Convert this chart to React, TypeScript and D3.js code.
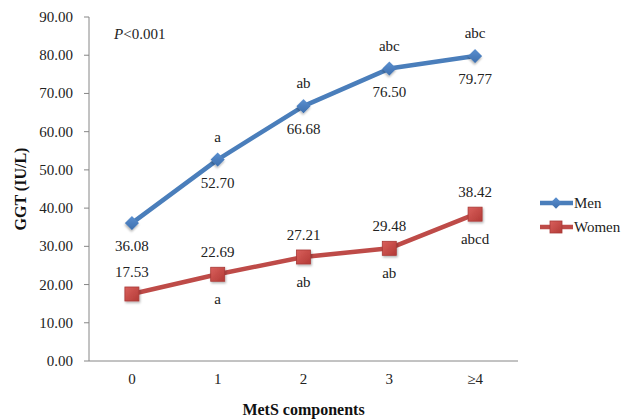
import React, { useEffect } from "react";
import * as d3 from "d3";

const categories = ["0", "1", "2", "3", "≥4"];
const menValues = [36.08, 52.7, 66.68, 76.5, 79.77];
const womenValues = [17.53, 22.69, 27.21, 29.48, 38.42];
const menLetters = ["", "a", "ab", "abc", "abc"];
const womenLetters = ["", "a", "ab", "ab", "abcd"];
const yTicks = [0, 10, 20, 30, 40, 50, 60, 70, 80, 90];

const W = 632;
const H = 419;
const plot = { left: 89, right: 518, top: 17, bottom: 361 };
const FONT = "Liberation Serif";
const BLUE = "#4A7EBB";
const RED = "#BE4B48";

export default function App() {
  useEffect(() => {
    document.body.style.margin = "0";
  }, []);

  const x = d3
    .scaleBand<string>()
    .domain(categories)
    .range([plot.left, plot.right]);
  const cx = (c: string) => (x(c) ?? 0) + x.bandwidth() / 2;
  const y = d3.scaleLinear().domain([0, 90]).range([plot.bottom, plot.top]);

  const line = d3
    .line<number>()
    .x((_, i) => cx(categories[i]))
    .y((d) => y(d));

  const txt: React.CSSProperties = { fontFamily: FONT, fontSize: 15 };
  const title: React.CSSProperties = { fontFamily: FONT, fontSize: 16, fontWeight: "bold" };

  return (
    <svg width={W} height={H} style={{ display: "block", fontFamily: FONT }}>
      <defs>
        <linearGradient id="sq" x1="0" y1="0" x2="1" y2="1">
          <stop offset="0" stopColor="#D9605C" />
          <stop offset="1" stopColor="#B33A36" />
        </linearGradient>
        <linearGradient id="dm" x1="0" y1="0" x2="1" y2="1">
          <stop offset="0" stopColor="#5A8FD0" />
          <stop offset="1" stopColor="#3E6FAD" />
        </linearGradient>
        <filter id="sh" x="-50%" y="-50%" width="200%" height="200%">
          <feDropShadow dx="1" dy="1.5" stdDeviation="1" floodColor="#000" floodOpacity="0.3" />
        </filter>
      </defs>

      {/* value axis */}
      <line x1={plot.left} x2={plot.left} y1={plot.top} y2={plot.bottom} stroke="#868686" />
      {yTicks.map((t) => (
        <g key={t}>
          <line x1={plot.left - 5} x2={plot.left} y1={y(t)} y2={y(t)} stroke="#868686" />
          <text x={plot.left - 16} y={y(t) + 5} textAnchor="end" style={txt} fill="#222">
            {t.toFixed(2)}
          </text>
        </g>
      ))}

      {/* category axis */}
      <line x1={plot.left} x2={plot.right} y1={plot.bottom} y2={plot.bottom} stroke="#868686" />
      {categories.map((c) => (
        <text key={c} x={cx(c)} y={384} textAnchor="middle" style={txt} fill="#222">
          {c}
        </text>
      ))}

      <text
        transform={`translate(26,${(plot.top + plot.bottom) / 2}) rotate(-90)`}
        textAnchor="middle"
        style={title}
        fill="#111"
      >
        GGT (IU/L)
      </text>
      <text x={(plot.left + plot.right) / 2} y={415} textAnchor="middle" style={title} fill="#111">
        MetS components
      </text>

      <text x={114} y={39} style={txt} fill="#222">
        <tspan fontStyle="italic">P</tspan>&lt;0.001
      </text>

      {/* series lines */}
      <path d={line(menValues) ?? ""} fill="none" stroke={BLUE} strokeWidth={4.5} strokeLinejoin="round" />
      <path d={line(womenValues) ?? ""} fill="none" stroke={RED} strokeWidth={4.5} strokeLinejoin="round" />

      {/* markers */}
      {menValues.map((v, i) => (
        <rect
          key={"m" + i}
          x={-5}
          y={-5}
          width={10}
          height={10}
          transform={`translate(${cx(categories[i])},${y(v)}) rotate(45)`}
          fill="url(#dm)"
          filter="url(#sh)"
        />
      ))}
      {womenValues.map((v, i) => (
        <rect
          key={"w" + i}
          x={cx(categories[i]) - 7}
          y={y(v) - 7}
          width={14}
          height={14}
          fill="url(#sq)"
          stroke="#A93A37"
          strokeWidth={0.8}
          filter="url(#sh)"
        />
      ))}

      {/* data labels */}
      {menValues.map((v, i) => (
        <g key={"ml" + i} fill="#222" textAnchor="middle">
          <text x={cx(categories[i])} y={y(v) + 28} style={txt}>{v.toFixed(2)}</text>
          {menLetters[i] && (
            <text x={cx(categories[i])} y={y(v) - 18} style={txt}>{menLetters[i]}</text>
          )}
        </g>
      ))}
      {womenValues.map((v, i) => (
        <g key={"wl" + i} fill="#222" textAnchor="middle">
          <text x={cx(categories[i])} y={y(v) - 17} style={txt}>{v.toFixed(2)}</text>
          {womenLetters[i] && (
            <text x={cx(categories[i])} y={y(v) + 30} style={txt}>{womenLetters[i]}</text>
          )}
        </g>
      ))}

      {/* legend */}
      <g>
        <line x1={540} x2={573} y1={203} y2={203} stroke={BLUE} strokeWidth={4.5} />
        <rect x={-4} y={-4} width={8} height={8} transform="translate(556,203) rotate(45)" fill="url(#dm)" />
        <text x={574} y={208} style={txt} fill="#222">Men</text>
        <line x1={540} x2={573} y1={227} y2={227} stroke={RED} strokeWidth={4.5} />
        <rect x={550} y={221} width={12} height={12} fill="url(#sq)" stroke="#A93A37" strokeWidth={0.8} />
        <text x={574} y={232} style={txt} fill="#222">Women</text>
      </g>
    </svg>
  );
}
